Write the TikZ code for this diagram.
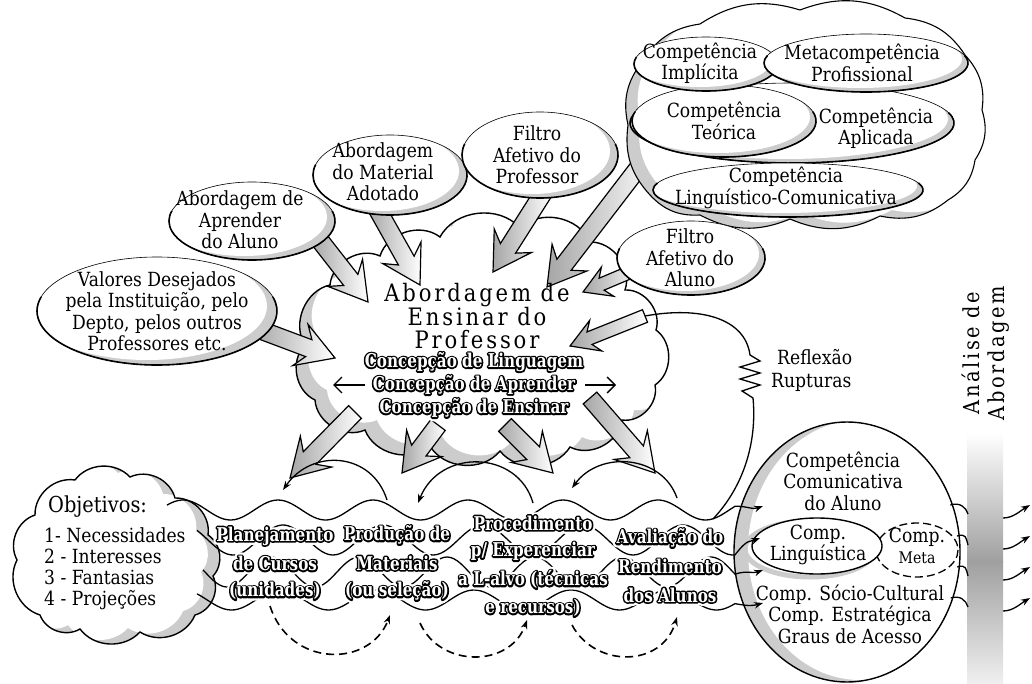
\documentclass[tikz,border=0pt]{standalone}
\usepackage{fontspec}
\setmainfont{DejaVu Serif}[FakeStretch=0.88]
\newfontfamily\bigfont{DejaVu Serif}[FakeStretch=0.88,LetterSpace=12]
\newfontfamily\olfont{DejaVu Serif}[FakeStretch=0.8]
\usetikzlibrary{arrows.meta,calc}

\newcommand{\centralcloud}{(305,345) to[bend left=55] (330,285) to[bend left=55] (380,256) to[bend left=55] (440,237) to[bend left=55] (520,228) to[bend left=55] (590,242) to[bend left=55] (625,290) to[bend left=55] (656,330) to[bend left=55] (655,385) to[bend left=55] (622,420) to[bend left=55] (570,447) to[bend left=55] (500,451) to[bend left=55] (430,446) to[bend left=55] (365,430) to[bend left=55] (315,400) to[bend left=55] (305,345) -- cycle}
\newcommand{\objcloud}{(17,560) to[bend left=50] (35,515) to[bend left=50] (75,480) to[bend left=50] (130,477) to[bend left=50] (175,498) to[bend left=50] (208,535) to[bend left=50] (213,576) to[bend left=50] (195,615) to[bend left=50] (140,632) to[bend left=50] (80,629) to[bend left=50] (40,615) to[bend left=50] (17,560) -- cycle}
\newcommand{\compcloud}{(628,125) to[bend left=25] (642,62) to[bend left=25] (700,24) to[bend left=25] (800,10) to[bend left=25] (905,18) to[bend left=25] (965,55) to[bend left=25] (982,110) to[bend left=25] (975,160) to[bend left=25] (948,200) to[bend left=25] (880,216) to[bend left=25] (790,219) to[bend left=25] (700,215) to[bend left=25] (650,195) to[bend left=25] (628,125) -- cycle}

\newcommand{\shell}[6]{%
  \begin{scope}
    \clip (#1,#2) ellipse [x radius=#3, y radius=#4];
    \fill[gray!40] (#1,#2) ellipse [x radius=#3, y radius=#4];
    \fill[white] ({#1+#5},{#2+#6}) ellipse [x radius=#3, y radius=#4];
  \end{scope}
  \draw[line width=0.6pt] (#1,#2) ellipse [x radius=#3, y radius=#4];
  \draw[line width=1.6pt] (#1,#2) ++({#3*cos(-15)},{#4*sin(-15)}) arc[start angle=-15, end angle=195, x radius=#3, y radius=#4];
}

\newcommand{\blockarrow}[3][1]{%
  \path let \p1=(#2), \p2=(#3) in \pgfextra{%
    \pgfmathsetmacro{\BAang}{atan2(\y2-\y1,\x2-\x1)}%
    \pgfmathsetmacro{\BAL}{veclen(\x2-\x1,\y2-\y1)}%
    \xdef\BAang{\BAang}\xdef\BAL{\BAL}\xdef\BAx{\x1}\xdef\BAy{\y1}};
  \pgfmathsetmacro{\BAw}{9*#1}\pgfmathsetmacro{\BAH}{22*#1}%
  \pgfmathsetmacro{\BAh}{28*#1}\pgfmathsetmacro{\BAb}{9*#1}%
  \begin{scope}[shift={(\BAx,\BAy)}, rotate=\BAang]
    \draw[blockarr] (0,\BAw) -- ({\BAL-\BAh},\BAw) -- ({\BAL-\BAh-\BAb},\BAH) -- (\BAL,0)
      -- ({\BAL-\BAh-\BAb},-\BAH) -- ({\BAL-\BAh},-\BAw) -- (0,-\BAw) -- cycle;
  \end{scope}}

% white halo, black outline, white letters
\newcommand{\halotext}[1]{{\color{white}\special{pdf:literal direct 2 Tr 7.5 w 1 j 1 J}#1\special{pdf:literal direct 0 Tr}}}
\newcommand{\blacktext}[1]{{\color{black}\special{pdf:literal direct 2 Tr 3.2 w 1 j 1 J}#1\special{pdf:literal direct 0 Tr}}}
\newcommand{\whitetext}[1]{{\color{white}#1}}

\newcommand{\outl}[5]{%
  \foreach \tl [count=\i from 0] in {#5} {%
    \node[olnode] (#1-\i) at (#2,{#3+#4*\i}) {\halotext{\tl}};
    \node[olnode] (#1-\i-k) at (#2,{#3+#4*\i}) {\blacktext{\tl}};
    \node[olnode] (#1-\i-f) at (#2,{#3+#4*\i}) {\whitetext{\tl}};
  }}

\begin{document}
\begin{tikzpicture}[x=1pt,y=-1pt,
  txt/.style={align=center, inner sep=0pt, font=\fontsize{19.5}{21.5}\selectfont},
  olnode/.style={inner sep=0pt, font=\olfont\bfseries\fontsize{19}{21}\selectfont},
  blockarr/.style={draw=black, line width=1.2pt, line join=miter, left color=gray!70, right color=white},
  thinarr/.style={line width=1.3pt, -{Stealth[length=9pt,width=6.5pt]}},
  dasharr/.style={line width=1.6pt, dash pattern=on 8pt off 5pt, -{Stealth[length=9pt,width=6.5pt]}},
  dbl/.style={line width=1.4pt, -{Straight Barb[length=8pt,width=16pt]}},
  wave/.style={line width=1.3pt, -{Stealth[length=9pt,width=6.5pt]}},
  plain/.style={line width=1.3pt}
]
\useasboundingbox (0,0) rectangle (1032,684);

% ---------------- central cloud
\fill[gray!40] \centralcloud;
\begin{scope}
  \clip \centralcloud;
  \fill[white, shift={(12,-10)}] \centralcloud;
\end{scope}
\draw[line width=1.4pt] \centralcloud;

% ---------------- block arrows into the central cloud
\coordinate (aprS) at (318,238); \coordinate (aprE) at (368,302);
\coordinate (matS) at (375,205); \coordinate (matE) at (420,285);
\coordinate (fprS) at (545,190); \coordinate (fprE) at (493,272);
\coordinate (cmpS) at (652,150); \coordinate (cmpE) at (547,287);
\coordinate (falS) at (640,268); \coordinate (falE) at (583,292);
\coordinate (valS) at (255,328); \coordinate (valE) at (335,358);
\blockarrow{aprS}{aprE}
\blockarrow{matS}{matE}
\blockarrow{fprS}{fprE}
\blockarrow{cmpS}{cmpE}
\blockarrow[0.72]{falS}{falE}
\blockarrow{valS}{valE}

% ---------------- block arrows out of the central cloud
\coordinate (d1S) at (355,412); \coordinate (d1E) at (290,478);
\coordinate (d2S) at (438,425); \coordinate (d2E) at (402,473);
\coordinate (d3S) at (505,425); \coordinate (d3E) at (553,473);
\coordinate (d4S) at (590,398); \coordinate (d4E) at (655,473);
\blockarrow{d1S}{d1E}
\blockarrow{d2S}{d2E}
\blockarrow{d3S}{d3E}
\blockarrow{d4S}{d4E}

% ---------------- competence cloud
\fill[gray!40] \compcloud;
\begin{scope}
  \clip \compcloud;
  \fill[white, shift={(12,-6)}] \compcloud;
\end{scope}
\draw[line width=1.1pt] \compcloud;
\shell{792}{123}{162}{40}{-6}{-4}
\shell{724}{121}{92}{36}{-6}{-4}
\shell{706}{64}{72}{27}{-6}{-4}
\shell{866}{63}{102}{29}{-6}{-4}
\shell{788}{190}{135}{27}{-6}{-4}
\node[txt] (implicita) at (700,63) {Competência\\Implícita};
\node[txt] (meta) at (862,63) {Metacompetência\\Profissional};
\node[txt] (teorica) at (724,121) {Competência\\Teórica};
\node[txt] (aplicada) at (876,128) {Competência\\Aplicada};
\node[txt] (lingcom) at (786,188) {Competência\\Linguístico-Comunicativa};

% ---------------- source ellipses
\shell{157}{311}{120}{54}{-10}{-5}
\shell{252}{221}{83}{39}{-8}{-4}
\shell{390}{175}{77}{40}{-8}{-4}
\shell{540}{155}{78}{43}{-8}{-4}
\shell{691}{258}{74}{37}{-6}{-4}
\node[txt] (valores) at (157,311) {Valores Desejados\\pela Instituição, pelo\\Depto, pelos outros\\Professores etc.};
\node[txt] (aprender) at (240,220) {Abordagem de\\Aprender\\do Aluno};
\node[txt] (material) at (383,172) {Abordagem\\do Material\\Adotado};
\node[txt] (filtroprof) at (537,155) {Filtro\\Afetivo do\\Professor};
\node[txt] (filtroaluno) at (690,258) {Filtro\\Afetivo do\\Aluno};

% ---------------- central texts
\node[align=center, inner sep=0pt, font=\bigfont\fontsize{24}{23}\selectfont] (abord) at (477,316) {Abordagem de\\Ensinar do\\Professor};
\coordinate (dl) at (333,385); \coordinate (dr) at (616,385);
\coordinate (dlS) at (365,385); \coordinate (drS) at (585,385);
\draw[dbl] (dlS) -- (dl);
\draw[dbl] (drS) -- (dr);

% ---------------- Objetivos cloud
\fill[gray!40] \objcloud;
\begin{scope}
  \clip \objcloud;
  \fill[white, shift={(-12,-4)}] \objcloud;
\end{scope}
\draw[line width=1.4pt] \objcloud;
\node[anchor=west, inner sep=0pt, font=\fontsize{22}{24}\selectfont] (objt) at (48,507) {Objetivos:};
\node[anchor=west, align=left, inner sep=0pt, font=\fontsize{19.5}{21}\selectfont] (objl) at (44,569) {1- Necessidades\\2 - Interesses\\3 - Fantasias\\4 - Projeções};

% ---------------- right ellipse
\begin{scope}
  \clip (847,552) ellipse [x radius=113, y radius=130];
  \fill[gray!40] (847,552) ellipse [x radius=113, y radius=130];
  \fill[white] (860,550) ellipse [x radius=112, y radius=130];
\end{scope}
\draw[line width=1.4pt] (847,552) ellipse [x radius=113, y radius=130];
\draw[line width=1.3pt, dash pattern=on 8pt off 4pt] (917,550) ellipse [x radius=41, y radius=27];
\draw[gray!40, line width=5pt] (810,549) ellipse [x radius=65, y radius=28];
\draw[line width=1.4pt, fill=white] (817,546) ellipse [x radius=65, y radius=28];
\node[txt] (comcom) at (843,481) {Competência\\Comunicativa\\do Aluno};
\node[txt] (complin) at (818,545) {Comp.\\Linguística};
\node[txt] (compmeta) at (917,546) {Comp.\\{\fontsize{16}{18}\selectfont Meta}};
\node[txt] (compsoc) at (850,614) {Comp. Sócio-Cultural\\Comp. Estratégica\\Graus de Acesso};

% ---------------- wave band
\coordinate (w1e) at (763,506); \coordinate (w2e) at (760,538);
\coordinate (w3e) at (763,570); \coordinate (w4e) at (763,603);
\draw[wave] plot[domain=167:735, samples=160, smooth] (\x,{510-10*cos((\x-183)/95*360)})
  .. controls (748,506) and (752,510) .. (w1e);
\draw[wave] plot[domain=197:735, samples=160, smooth] (\x,{540-15*cos((\x-183)/100*360)})
  .. controls (748,538) and (750,542) .. (w2e);
\draw[wave] plot[domain=203:735, samples=160, smooth] (\x,{572-15*cos((\x-183)/88*360)})
  .. controls (748,570) and (752,574) .. (w3e);
\draw[wave] plot[domain=197:735, samples=160, smooth] (\x,{600-10*cos((\x-183)/97*360)})
  .. controls (748,606) and (752,606) .. (w4e);

% ---------------- reflexao loop
\coordinate (rfA) at (713,519);
\coordinate (rfZ) at (753,398);
\coordinate (rfT) at (750,355);
\coordinate (rfS) at (645,316); \coordinate (rfE) at (570,346);
\draw[plain] (rfA) .. controls (745,485) and (757,440) .. (rfZ)
  -- (742,391) -- (760,385) -- (740,379) -- (760,373) -- (740,367) -- (760,361) -- (rfT)
  .. controls (745,318) and (700,306) .. (rfS);
\blockarrow[0.75]{rfS}{rfE}
\node[anchor=west, align=left, inner sep=0pt, font=\fontsize{19.5}{23}\selectfont] (reflexao) at (771,370) {\hspace{6pt}Reflexão\\Rupturas};

% ---------------- thin curved arrows above the band
\coordinate (c1s) at (387,500); \coordinate (c1e) at (283,490);
\coordinate (c2s) at (533,503); \coordinate (c2e) at (418,503);
\coordinate (c3s) at (677,498); \coordinate (c3e) at (572,488);
\draw[thinarr] (c1s) .. controls (372,452) and (312,448) .. (c1e);
\draw[thinarr] (c2s) .. controls (518,450) and (440,448) .. (c2e);
\draw[thinarr] (c3s) .. controls (662,455) and (600,450) .. (c3e);

% ---------------- dashed arrows below the band
\coordinate (e1s) at (270,606); \coordinate (e1e) at (390,615);
\coordinate (e2s) at (420,623); \coordinate (e2e) at (527,620);
\coordinate (e3s) at (572,625); \coordinate (e3e) at (677,617);
\draw[dasharr] (e1s) .. controls (290,668) and (370,668) .. (e1e);
\draw[dasharr] (e2s) .. controls (440,668) and (510,668) .. (e2e);
\draw[dasharr] (e3s) .. controls (595,668) and (662,668) .. (e3e);

% ---------------- outlined texts
\outl{conc}{474}{362}{23}{Concepção de Linguagem,Concepção de Aprender,Concepção de Ensinar}
\outl{plan}{275}{536}{27.5}{Planejamento,de Cursos,(unidades)}
\outl{prod}{397}{535}{28}{Produção de,Materiais,(ou seleção)}
\outl{proc}{533}{523}{28.3}{Procedimento,p/ Experenciar,a L-alvo (técnicas,e recursos)}
\outl{aval}{670}{538}{28.5}{Avaliação do,Rendimento,dos Alunos}

% ---------------- analysis bar
\shade[top color=white, bottom color=gray!75] (967,433) rectangle (1003,562);
\shade[top color=gray!75, bottom color=gray!12] (967,561) rectangle (1003,684);
\node[rotate=90, align=center, inner sep=0pt, font=\bigfont\fontsize{22}{25}\selectfont] (analise) at (986,353) {Análise de\\Abordagem};
\foreach \i/\ya/\yb in {1/505/518, 2/536/549, 3/567/580, 4/598/611} {
  \coordinate (hl\i) at ({847+113*sqrt(1-((\ya-552)/130)^2)-2}, \ya);
  \coordinate (hb\i) at (968, \ya+9);
  \coordinate (hr\i) at (1003, \yb);
  \coordinate (ht\i) at (1030, \yb-13);
  \draw[plain] (hl\i) .. controls +(9,-3) and +(-2,-7) .. (hb\i);
  \draw[thinarr] (hr\i) .. controls +(10,0) and +(-10,6) .. (ht\i);
}
\end{tikzpicture}
\end{document}
